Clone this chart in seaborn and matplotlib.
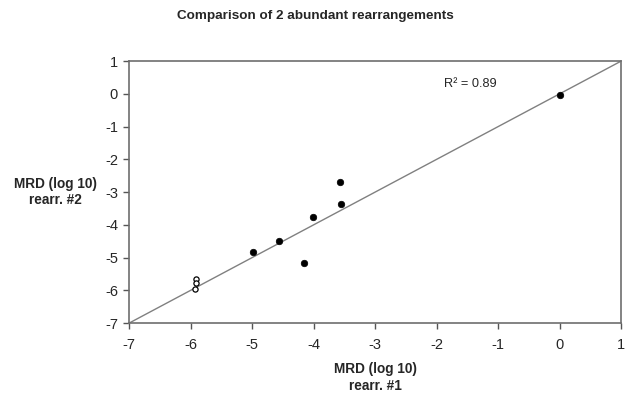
import numpy as np
import pandas as pd
import matplotlib
matplotlib.use("Agg")
import matplotlib.pyplot as plt
import seaborn as sns

# values (log10 MRD)
rearr1 = [0.0, -4.99, -4.57, -4.15, -4.01, -3.57, -3.55, -5.91, -5.92, -5.93]
rearr2 = [-0.05, -4.82, -4.50, -5.18, -3.76, -2.70, -3.35, -5.66, -5.77, -5.97]
marker_kind = ["filled"] * 7 + ["open"] * 3

ticks = list(range(-7, 2))
r2_label = "R\u00b2 = 0.89"

sns.set_theme(style="white")
plt.rcParams["font.family"] = ["Liberation Sans", "DejaVu Sans"]
plt.rcParams["axes.unicode_minus"] = False

df = pd.DataFrame({"x": rearr1, "y": rearr2, "kind": marker_kind})

fig = plt.figure(figsize=(6.3, 3.94), dpi=100)
ax = fig.add_axes([0.205, 0.180, 0.781, 0.665])

# identity line
ax.plot([ticks[0], ticks[-1]], [ticks[0], ticks[-1]], color="#808080", lw=1, zorder=1)

filled = df[df["kind"] == "filled"]
opened = df[df["kind"] == "open"]
sns.scatterplot(data=filled, x="x", y="y", ax=ax, color="black", s=22,
                edgecolor="black", linewidth=0.5, zorder=3, legend=False)
sns.scatterplot(data=opened, x="x", y="y", ax=ax, facecolor="white", s=14,
                edgecolor="black", linewidth=0.9, zorder=3, legend=False)

ax.set_xlim(ticks[0], ticks[-1])
ax.set_ylim(ticks[0], ticks[-1])
ax.set_xticks(ticks)
ax.set_yticks(ticks)
ax.tick_params(axis="both", direction="out", length=4, width=1, color="#555555",
               labelsize=10.5, bottom=True, left=True, pad=4)
ax.tick_params(axis="x", pad=7)
for s in ax.spines.values():
    s.set_color("#6e6e6e")
    s.set_linewidth(1.2)

ax.set_xlabel("MRD (log 10)\nrearr. #1", fontsize=9.8, fontweight="bold",
              labelpad=7, linespacing=1.25)
ax.set_ylabel("MRD (log 10)\nrearr. #2", fontsize=9.8, fontweight="bold", rotation=0,
              ha="center", va="center", linespacing=1.25)
ax.yaxis.set_label_coords(-0.15, 0.5)

ax.text(-1.45, 0.3, r2_label, fontsize=9.2, ha="center", va="center")

fig.suptitle("Comparison of 2 abundant rearrangements", fontsize=9.7,
             fontweight="bold", y=0.975)

fig.savefig("out.png", dpi=100)
